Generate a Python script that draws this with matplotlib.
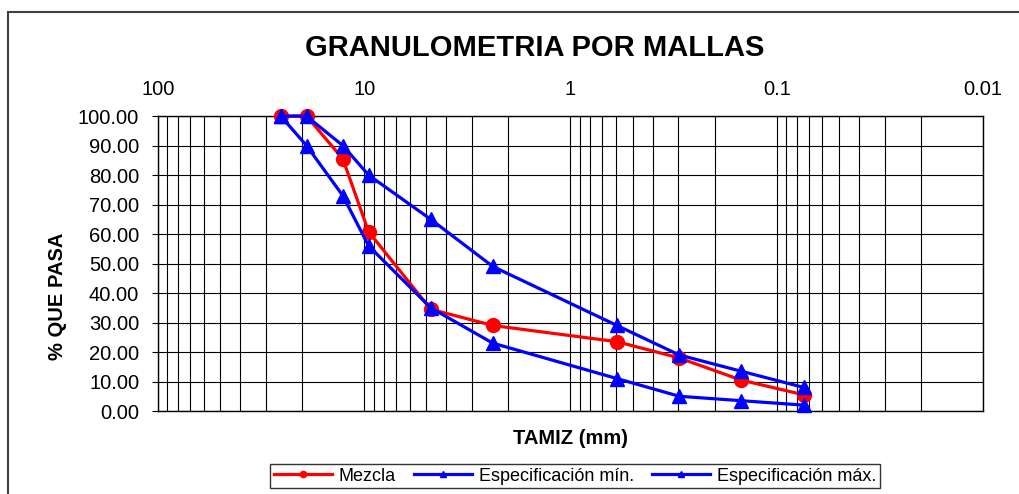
import matplotlib
matplotlib.use("Agg")
import matplotlib.pyplot as plt
from matplotlib.patches import Rectangle
from matplotlib.ticker import FixedLocator, LogLocator, NullFormatter

plt.rcParams['font.family'] = ['Liberation Sans', 'DejaVu Sans']

# aberturas de tamiz (mm)
tamiz = [25.4, 19.05, 12.7, 9.525, 4.76, 2.38, 0.595, 0.297, 0.149, 0.074]
mezcla = [100, 100, 85.5, 60.8, 34.5, 29.0, 23.5, 18.0, 10.5, 5.5]
esp_min = [100, 90, 73, 56, 35, 23, 11, 5, 3.5, 2]
esp_max = [100, 100, 90, 80, 65, 49, 29, 19, 13.5, 8]
xticks = [100, 10, 1, 0.1, 0.01]
xtick_labels = ['100', '10', '1', '0.1', '0.01']
yticks = [0, 10, 20, 30, 40, 50, 60, 70, 80, 90, 100]

fig = plt.figure(figsize=(10.2, 4.94), dpi=100)
ax = fig.add_axes([0.1549, 0.168, 0.8088, 0.597])

# borde del area del grafico
fig.patches.append(Rectangle((8 / 1020, -0.1), 1.2, 1 - 12 / 494 + 0.1,
                             transform=fig.transFigure, fill=False,
                             edgecolor='#404040', lw=1.5))

ax.plot(tamiz, mezcla, color='red', lw=2.3, marker='o', ms=10, label='Mezcla',
        zorder=3, clip_on=False)
ax.plot(tamiz, esp_min, color='blue', lw=2.3, marker='^', ms=10,
        label='Especificación mín.', zorder=4, clip_on=False)
ax.plot(tamiz, esp_max, color='blue', lw=2.3, marker='^', ms=10,
        label='Especificación máx.', zorder=4, clip_on=False)

ax.set_xscale('log')
ax.set_xlim(100, 0.01)
ax.set_ylim(0, 100)

ax.xaxis.set_major_locator(FixedLocator(xticks))
ax.set_xticklabels(xtick_labels)
ax.xaxis.set_minor_locator(LogLocator(base=10, subs=range(2, 10)))
ax.xaxis.set_minor_formatter(NullFormatter())
ax.xaxis.tick_top()
ax.tick_params(axis='x', which='both', length=0, labelsize=14.5, pad=12)

ax.set_yticks(yticks)
ax.set_yticklabels([f'{v:.2f}' for v in yticks])
ax.tick_params(axis='y', length=4.5, width=0.8, labelsize=14.5, pad=9,
               direction='out')

ax.grid(True, which='both', axis='x', color='black', lw=0.8)
ax.grid(True, which='major', axis='y', color='black', lw=0.8)
for s in ax.spines.values():
    s.set_linewidth(1.0)

fig.text(0.5245, 0.902, 'GRANULOMETRIA POR MALLAS', ha='center', va='center',
         fontsize=21, fontweight='bold')
fig.text(0.559, 0.113, 'TAMIZ (mm)', ha='center', va='center',
         fontsize=14.5, fontweight='bold')
fig.text(0.056, 0.40, '% QUE PASA', ha='center', va='center', rotation=90,
         fontsize=14.5, fontweight='bold')

leg = fig.legend(loc='center', bbox_to_anchor=(0.564, 0.036), ncol=3,
                 fontsize=13, frameon=True, fancybox=False, edgecolor='black',
                 markerscale=0.45, handlelength=3.2, borderpad=0.2,
                 columnspacing=1.0, handletextpad=0.4)
leg.get_frame().set_linewidth(1.0)

fig.savefig('out.png', dpi=100)
